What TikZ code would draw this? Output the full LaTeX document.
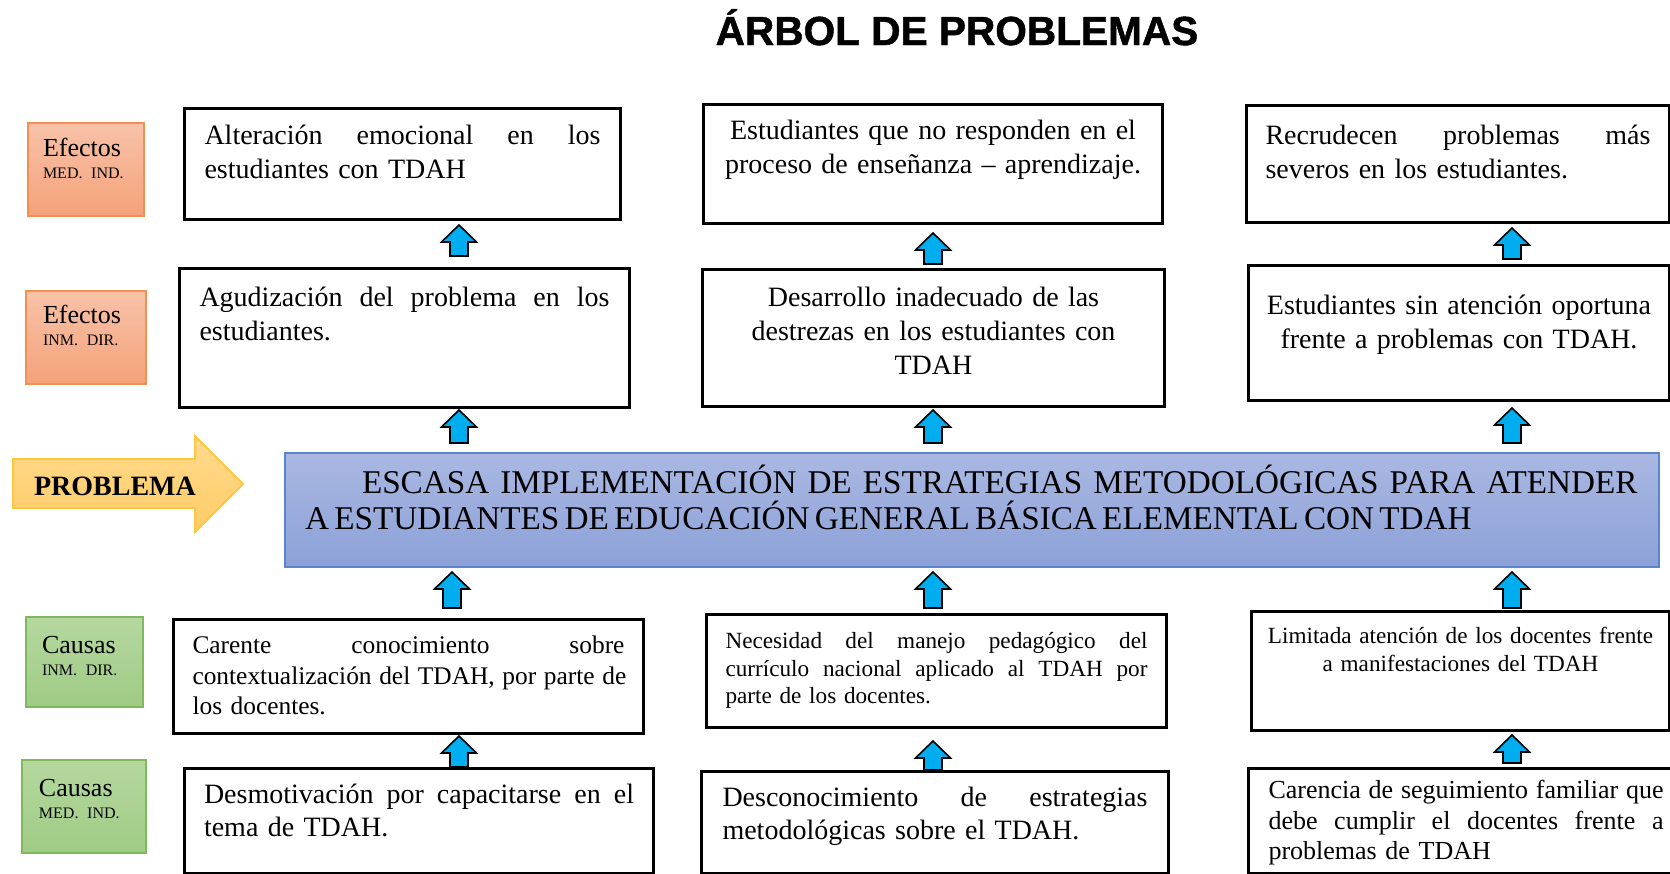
\documentclass[tikz,border=0pt]{standalone}
\usepackage{fontspec}
\setmainfont{Liberation Serif}
\newfontfamily\titlefont{Liberation Sans}[BoldFeatures = {FakeBold = 1.2}]
\usepackage{xcolor}
\usetikzlibrary{calc}

\definecolor{eftop}{HTML}{F8C2A8}
\definecolor{efbot}{HTML}{F4A27A}
\definecolor{efline}{HTML}{F2914F}
\definecolor{catop}{HTML}{B5D8A0}
\definecolor{cabot}{HTML}{9FCB84}
\definecolor{caline}{HTML}{80B95C}
\definecolor{arwtop}{HTML}{FFDB8E}
\definecolor{arwbot}{HTML}{FFCB66}
\definecolor{arwline}{HTML}{FFC740}
\definecolor{probtop}{HTML}{AAB8E2}
\definecolor{probbot}{HTML}{8CA1D8}
\definecolor{probline}{HTML}{5B84CF}
\definecolor{arrcyan}{HTML}{00AEEF}

\newcommand{\fillline}[1]{\leavevmode\hbox to \hsize{\spaceskip = .3em plus 1fil\relax #1}}
\newcommand{\labsmall}{\fontsize{8}{8}\selectfont}

\begin{document}
\begin{tikzpicture}[
      x = 0.5pt, y = -0.5pt,
      cell/.style    = {draw = black, line width = 1.5pt, fill = white, anchor = north west,
                        align = left, inner ysep = 0pt, font = \fontsize{14}{17}\selectfont},
      f13/.style     = {font = \fontsize{12.7}{15.25}\selectfont},
      f12/.style     = {font = \fontsize{11.6}{13.75}\selectfont},
      efbox/.style   = {draw = efline, line width = 1pt, top color = eftop, bottom color = efbot,
                        anchor = north west, align = left, inner ysep = 0pt,
                        font = \fontsize{13}{11}\selectfont},
      cabox/.style   = {draw = caline, line width = 1pt, top color = catop, bottom color = cabot,
                        anchor = north west, align = left, inner ysep = 0pt,
                        font = \fontsize{13}{11}\selectfont},
      probbox/.style = {draw = probline, line width = 1pt, top color = probtop, bottom color = probbot,
                        anchor = north west, align = left, inner xsep = 10pt, inner ysep = 0pt,
                        font = \fontsize{16.6}{18}\selectfont},
      blockarr/.style = {draw = black, line width = .8pt, fill = arrcyan, line join = miter,
        to path = {let \p1 = (\tikztostart), \p2 = (\tikztotarget) in
          (\x1-4.5pt,\y1) -- (\x1-4.5pt,\y2-8.5pt) -- (\x1-8.75pt,\y2-8.5pt) -- (\x1,\y2)
          -- (\x1+8.75pt,\y2-8.5pt) -- (\x1+4.5pt,\y2-8.5pt) -- (\x1+4.5pt,\y1) -- cycle}}
    ]

  \useasboundingbox (0,0) rectangle (1670,873);

  % title ---------------------------------------------------------------
  \node[font = \titlefont\bfseries\fontsize{20.3}{24}\selectfont, anchor = base] (title)
        at (957,45) {ÁRBOL DE PROBLEMAS};

  % side labels ---------------------------------------------------------
  \node[efbox, inner xsep = 7.5pt, text width = 43pt, text height = 16.5pt, text depth = 30pt]
        (lef1) at (27,122) {Efectos\\{\labsmall MED. IND.}};
  \node[efbox, inner xsep = 8.5pt, text width = 43pt, text height = 16pt, text depth = 30.5pt]
        (lef2) at (25,290) {Efectos\\{\labsmall INM. DIR.}};
  \node[cabox, inner xsep = 8pt, text width = 42.5pt, text height = 18pt, text depth = 27pt]
        (lca1) at (25,616) {Causas\\{\labsmall INM. DIR.}};
  \node[cabox, inner xsep = 8.5pt, text width = 45pt, text height = 18pt, text depth = 28.5pt]
        (lca2) at (21,759) {Causas\\{\labsmall MED. IND.}};

  \shadedraw[draw = arwline, line width = 1pt, top color = arwtop, bottom color = arwbot]
        (13,459) -- (195,459) -- (195,436) -- (243,484) -- (195,532) -- (195,508) -- (13,508) -- cycle;
  \node[font = \bfseries\fontsize{14}{14}\selectfont, anchor = base] (probl) at (115,495) {PROBLEMA};

  % effects, mediate ----------------------------------------------------
  \node[cell, inner xsep = 10pt, text width = 198pt, text height = 18pt, text depth = 37.5pt]
        (b1) at (183,107) {\fillline{Alteración emocional en los}\\ estudiantes con TDAH};
  \node[cell, align = center, inner xsep = 10pt, text width = 209.5pt, text height = 17.5pt, text depth = 42pt]
        (b2) at (702,103) {Estudiantes que no responden en el\\ proceso de enseñanza – aprendizaje.};
  \node[cell, inner xsep = 9.5pt, text width = 192.5pt, text height = 19.5pt, text depth = 39pt]
        (b3) at (1245,104) {\fillline{Recrudecen problemas más}\\ severos en los estudiantes.};

  % effects, immediate --------------------------------------------------
  \node[cell, inner xsep = 10pt, text width = 205pt, text height = 19pt, text depth = 50.5pt]
        (b4) at (178,267) {\fillline{Agudización del problema en los}\\ estudiantes.};
  \node[cell, align = center, inner xsep = 10pt, text width = 211pt, text height = 18.5pt, text depth = 50pt]
        (b5) at (701,268) {Desarrollo inadecuado de las\\ destrezas en los estudiantes con\\ TDAH};
  \node[cell, align = center, inner xsep = 8pt, text width = 194.5pt, text height = 24.5pt, text depth = 43pt]
        (b6) at (1247,264) {Estudiantes sin atención oportuna\\ frente a problemas con TDAH.};

  % central problem -----------------------------------------------------
  \node[probbox, text width = 667pt, text height = 20pt, text depth = 37pt] (prob) at (284,452)
        {\hspace*{28.5pt}\mbox{ESCASA IMPLEMENTACIÓN DE ESTRATEGIAS METODOLÓGICAS PARA ATENDER}\\
         \mbox{\spaceskip = .16em\relax A ESTUDIANTES DE EDUCACIÓN GENERAL BÁSICA ELEMENTAL CON TDAH}};

  % causes, immediate ---------------------------------------------------
  \node[cell, f13, inner xsep = 9.5pt, text width = 216pt, text height = 17pt, text depth = 40pt]
        (c1) at (172,618) {\fillline{Carente conocimiento sobre}\\
                           \fillline{contextualización del TDAH, por parte de}\\ los docentes.};
  \node[cell, f12, inner xsep = 9.5pt, text width = 211pt, text height = 17pt, text depth = 39.5pt]
        (c2) at (705,613) {\fillline{Necesidad del manejo pedagógico del}\\
                           \fillline{currículo nacional aplicado al TDAH por}\\ parte de los docentes.};
  \node[cell, f12, align = center, inner xsep = 8pt, text width = 193pt, text height = 16pt, text depth = 43.5pt]
        (c3) at (1250,610) {Limitada atención de los docentes frente\\ a manifestaciones del TDAH};

  % causes, mediate -----------------------------------------------------
  \node[cell, font = \fontsize{14}{16.5}\selectfont, inner xsep = 9.75pt, text width = 215pt,
        text height = 17.5pt, text depth = 35pt]
        (d1) at (183,767) {\fillline{Desmotivación por capacitarse en el}\\ tema de TDAH.};
  \node[cell, font = \fontsize{14}{16.5}\selectfont, inner xsep = 10.5pt, text width = 212.5pt,
        text height = 17.5pt, text depth = 33.5pt]
        (d2) at (700,770) {\fillline{Desconocimiento de estrategias}\\ metodológicas sobre el TDAH.};
  \node[cell, font = \fontsize{13}{15.25}\selectfont, inner xsep = 10pt, text width = 197.5pt,
        text height = 15pt, text depth = 37.5pt]
        (d3) at (1247,767) {\fillline{Carencia de seguimiento familiar que}\\
                            \fillline{debe cumplir el docentes frente a}\\ problemas de TDAH};

  % block arrows --------------------------------------------------------
  \coordinate (ka) at (459,0);
  \coordinate (kb) at (933,0);
  \coordinate (kc) at (1512,0);

  \draw[blockarr] ([yshift = 5.5pt]ka |- b4.north) to ([yshift = -2pt]ka |- b1.south);
  \draw[blockarr] ([yshift = 2pt]kb |- b5.north)   to ([yshift = -4pt]kb |- b2.south);
  \draw[blockarr] ([yshift = 2.5pt]kc |- b6.north) to ([yshift = -2pt]kc |- b3.south);

  \draw[blockarr] ([yshift = 4.5pt]ka |- prob.north) to ([yshift = -.5pt]ka |- b4.south);
  \draw[blockarr] ([yshift = 4.5pt]kb |- prob.north) to ([yshift = -1pt]kb |- b5.south);
  \draw[blockarr] ([yshift = 4.5pt]kc |- prob.north) to ([yshift = -3pt]kc |- b6.south);

  \draw[blockarr] ([xshift = -3.5pt, yshift = 5pt]ka |- c1.north) to ([xshift = -3.5pt, yshift = -2pt]ka |- prob.south);
  \draw[blockarr] ([yshift = 2.5pt]kb |- c2.north) to ([yshift = -2pt]kb |- prob.south);
  \draw[blockarr] ([yshift = 1pt]kc |- c3.north)   to ([yshift = -2pt]kc |- prob.south);

  \draw[blockarr] (ka |- d1.north)                 to ([yshift = -.5pt]ka |- c1.south);
  \draw[blockarr] (kb |- d2.north)                 to ([yshift = -6pt]kb |- c2.south);
  \draw[blockarr] ([yshift = 2pt]kc |- d3.north)   to ([yshift = -1.5pt]kc |- c3.south);

\end{tikzpicture}
\end{document}
